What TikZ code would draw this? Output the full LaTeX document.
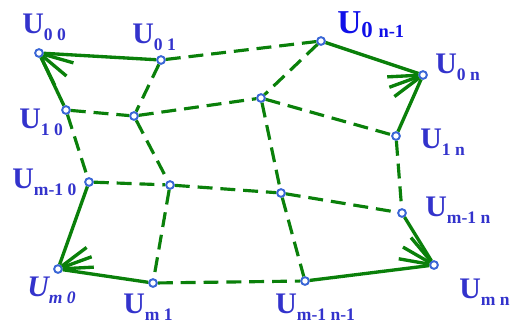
\documentclass[tikz,border=0pt]{standalone}
\usepackage{fontspec}
\setmainfont{Liberation Serif}
\usetikzlibrary{calc}
\definecolor{Mesh}{HTML}{0A800A}
\definecolor{Knot}{HTML}{3A66D6}
\definecolor{Tag}{HTML}{3333CC}
\definecolor{TagBright}{HTML}{1010E8}
\tikzset{
  knot/.style={circle, draw=Knot, fill=white, line width=1.1pt, minimum size=4.4pt, inner sep=0pt},
  boundary/.style={draw=Mesh, line width=1.9pt},
  meshline/.style={draw=Mesh, line width=1.8pt, dash pattern=on 8.5pt off 4.5pt},
  tag/.style={text=Tag, font=\fontsize{17}{17}\selectfont\bfseries, inner sep=0pt, anchor=base west}
}
\newcommand{\Usub}[1]{U\raisebox{-4pt}{\fontsize{10}{10}\selectfont #1}}
\newcommand{\Uit}[1]{\textit{U\raisebox{-4pt}{\fontsize{10}{10}\selectfont #1}}}
% three strokes at a corner: node, direction, spread
\newcommand{\fan}[3]{
  \foreach \s in {-1,0,1}{
    \pgfmathtruncatemacro\ang{#2+\s*#3}
    \draw[boundary] (#1.\ang) -- ++(\ang:0.62cm);
  }
}

\begin{document}
\begin{tikzpicture}[x=0.02cm, y=-0.02cm]
  \useasboundingbox (0,0) rectangle (510,322);
  % grid points
  \node[knot] (u00) at (39,53) {};
  \node[knot] (u01) at (161,60) {};
  \node[knot] (u0k) at (321,41) {};
  \node[knot] (u0n) at (423,75) {};
  \node[knot] (u10) at (66,110) {};
  \node[knot] (v11) at (134,116) {};
  \node[knot] (v1k) at (261,98) {};
  \node[knot] (u1n) at (396,136) {};
  \node[knot] (uj0) at (89,182) {};
  \node[knot] (vj1) at (170,185) {};
  \node[knot] (vjk) at (281,193) {};
  \node[knot] (ujn) at (402,213) {};
  \node[knot] (um0) at (58,269) {};
  \node[knot] (um1) at (153,283) {};
  \node[knot] (umk) at (305,281) {};
  \node[knot] (umn) at (434,265) {};
  % corner cells
  \draw[boundary] (u10) -- (u00) -- (u01);
  \draw[boundary] (u0k) -- (u0n) -- (u1n);
  \draw[boundary] (uj0) -- (um0) -- (um1);
  \draw[boundary] (ujn) -- (umn) -- (umk);
  \fan{u00}{-40}{24}
  \fan{u0n}{200}{17}
  \fan{um0}{20}{17}
  \fan{umn}{150}{20}
  % inner mesh
  \draw[meshline] (u01) -- (u0k);
  \draw[meshline] (u10) -- (v11) -- (v1k) -- (u1n);
  \draw[meshline] (uj0) -- (vj1) -- (vjk) -- (ujn);
  \draw[meshline] (um1) -- (umk);
  \draw[meshline] (u10) -- (uj0);
  \draw[meshline] (u01) -- (v11) -- (vj1) -- (um1);
  \draw[meshline] (u0k) -- (v1k) -- (vjk) -- (umk);
  \draw[meshline] (u1n) -- (ujn);
  % labels
  \node[tag] (t00) at (22,33) {\Usub{0 0}};
  \node[tag] (t01) at (132,43) {\Usub{0 1}};
  \node[tag, text=TagBright, font=\fontsize{19}{19}\selectfont\bfseries] (t0k) at (337,33)
    {U\raisebox{-2.3pt}{\fontsize{13}{13}\selectfont 0 \fontsize{10.5}{10.5}\selectfont n-1}};
  \node[tag] (t0n) at (435,73) {\Usub{0 n}};
  \node[tag] (t10) at (19,128) {\Usub{1 0}};
  \node[tag] (t1n) at (420,148) {\Usub{1 n}};
  \node[tag] (tj0) at (12,188) {\Usub{m-1 0}};
  \node[tag] (tjn) at (425,216) {\Usub{m-1 n}};
  \node[tag] (tm0) at (27,296) {\Uit{m 0}};
  \node[tag] (tm1) at (123,313) {\Usub{m 1}};
  \node[tag] (tmk) at (275,313) {\Usub{m-1 n-1}};
  \node[tag] (tmn) at (459,298) {\Usub{m n}};
\end{tikzpicture}
\end{document}
